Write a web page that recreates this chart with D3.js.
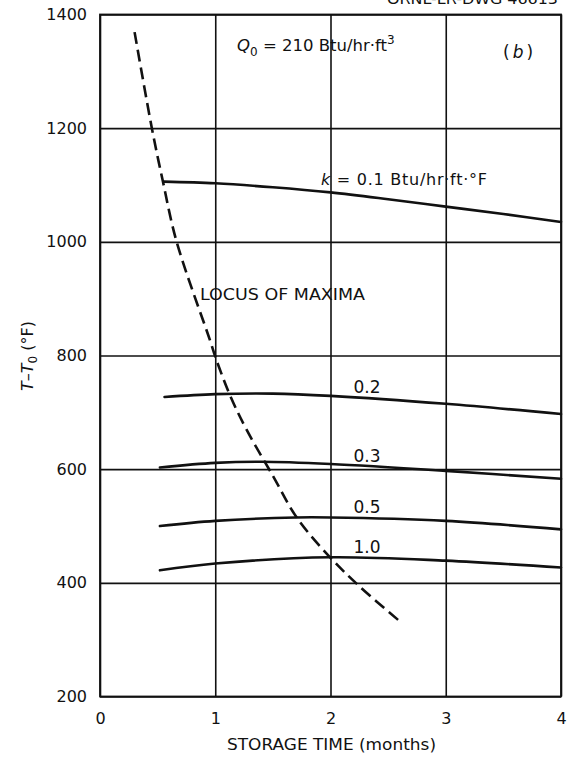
<!DOCTYPE html>
<html>
<head>
<meta charset="utf-8">
<script src="https://cdn.jsdelivr.net/npm/d3@7"></script>
<style>
  body { margin: 0; background: #fff; }
  svg { display: block; }
  text { font-family: "DejaVu Sans", sans-serif; fill: #111; }
</style>
</head>
<body>
<div id="chart"></div>
<script>
// storage time (months) and T - T0 (°F)
var xTicks = [0, 1, 2, 3, 4];
var yTicks = [200, 400, 600, 800, 1000, 1200, 1400];

var k01Time = [0.555, 1, 1.5, 2, 2.5, 3, 3.5, 4];
var k01Temp = [1106, 1103, 1096, 1087, 1075, 1062, 1049, 1035];

var k02Time = [0.56, 1, 1.5, 2, 3, 4];
var k02Temp = [727, 732, 733, 729, 715, 697];

var k03Time = [0.52, 1, 1.4, 2, 3, 4];
var k03Temp = [603, 611, 613, 609, 597, 583];

var k05Time = [0.52, 1, 1.7, 2, 3, 4];
var k05Temp = [500, 509, 515, 515, 509, 494];

var k10Time = [0.52, 1, 2, 3, 4];
var k10Temp = [422, 434, 445, 439, 427];

var locusTime = [0.30, 0.45, 0.546, 0.665, 0.954, 1.0, 1.128, 1.273, 1.504, 1.707, 1.996, 2.256, 2.603];
var locusTemp = [1369, 1200, 1106, 1000, 827, 798, 730, 669, 587, 515, 445, 393, 332];

var curveLabels = ["0.2", "0.3", "0.5", "1.0"];
var curveLabelTemp = [734, 613, 522, 452]; // label baselines (data units)

var width = 576, height = 761;
var plotLeft = 100, plotRight = 561, plotTop = 14.5, plotBottom = 696.5;

var svg = d3.select("#chart")
    .append("svg")
    .attr("width", width)
    .attr("height", height);

var x = d3.scaleLinear().domain([0, 4]).range([plotLeft, plotRight]);
var y = d3.scaleLinear().domain([200, 1400]).range([plotBottom, plotTop]);

// grid + tick labels via axes
var yAxis = d3.axisLeft(y)
    .tickValues(yTicks)
    .tickSize(-(plotRight - plotLeft))
    .tickSizeOuter(0)
    .tickPadding(13)
    .tickFormat(d3.format("d"));

var xAxis = d3.axisBottom(x)
    .tickValues(xTicks)
    .tickSize(-(plotBottom - plotTop))
    .tickSizeOuter(0)
    .tickPadding(16)
    .tickFormat(d3.format("d"));

var gy = svg.append("g")
    .attr("transform", "translate(" + plotLeft + ",0)")
    .call(yAxis);
var gx = svg.append("g")
    .attr("transform", "translate(0," + plotBottom + ")")
    .call(xAxis);

[gx, gy].forEach(function (g) {
    g.select(".domain").remove();
    g.selectAll(".tick line").attr("stroke", "#111").attr("stroke-width", 1.6);
    g.selectAll(".tick text")
        .style("font-family", "'DejaVu Sans', sans-serif")
        .style("font-size", "16px")
        .attr("fill", "#111");
});

// frame
svg.append("rect")
    .attr("x", x(0)).attr("y", y(1400))
    .attr("width", x(4) - x(0)).attr("height", y(200) - y(1400))
    .attr("fill", "none")
    .attr("stroke", "#111")
    .attr("stroke-width", 1.8);

var line = d3.line()
    .x(function (d) { return x(d[0]); })
    .y(function (d) { return y(d[1]); })
    .curve(d3.curveCatmullRom.alpha(0.5));

var series = [
    [k01Time, k01Temp],
    [k02Time, k02Temp],
    [k03Time, k03Temp],
    [k05Time, k05Temp],
    [k10Time, k10Temp]
];

svg.append("g").selectAll("path")
    .data(series)
    .enter()
    .append("path")
    .attr("d", function (s) { return line(d3.zip(s[0], s[1])); })
    .attr("fill", "none")
    .attr("stroke", "#111")
    .attr("stroke-width", 2.6)
    .attr("stroke-linecap", "round");

// locus of maxima (dashed)
svg.append("path")
    .attr("d", line(d3.zip(locusTime, locusTemp)))
    .attr("fill", "none")
    .attr("stroke", "#111")
    .attr("stroke-width", 2.6)
    .attr("stroke-dasharray", "12,6");

// curve labels
svg.append("g").selectAll("text")
    .data(curveLabels)
    .enter()
    .append("text")
    .attr("x", x(2.2))
    .attr("y", function (d, i) { return y(curveLabelTemp[i]); })
    .style("font-size", "17px")
    .text(function (d) { return d; });

// k = 0.1 label
var kLabel = svg.append("text")
    .attr("x", 321).attr("y", 185)
    .attr("textLength", 166)
    .attr("lengthAdjust", "spacing")
    .style("font-size", "16px");
kLabel.append("tspan").style("font-style", "italic").text("k");
kLabel.append("tspan").text(" = 0.1 Btu/hr·ft·°F");

// locus label
svg.append("text")
    .attr("x", 200).attr("y", 300)
    .attr("textLength", 165)
    .attr("lengthAdjust", "spacingAndGlyphs")
    .style("font-size", "16px")
    .text("LOCUS OF MAXIMA");

// Q0 label
var qLabel = svg.append("text")
    .attr("x", 237).attr("y", 51)
    .style("font-size", "16.5px");
qLabel.append("tspan").style("font-style", "italic").text("Q");
qLabel.append("tspan").attr("dy", 5).style("font-size", "12px").text("0");
qLabel.append("tspan").attr("dy", -5).text(" = 210 Btu/hr·ft");
qLabel.append("tspan").attr("dy", -7).style("font-size", "12px").text("3");

// (b)
var bLabel = svg.append("text")
    .attr("x", 503).attr("y", 58)
    .style("font-size", "17px")
    .style("letter-spacing", "3px");
bLabel.append("tspan").text("(");
bLabel.append("tspan").style("font-style", "italic").text("b");
bLabel.append("tspan").text(")");

// axis titles
svg.append("text")
    .attr("x", (x(0) + x(4)) / 2 + 1)
    .attr("y", 750)
    .attr("text-anchor", "middle")
    .attr("textLength", 209)
    .attr("lengthAdjust", "spacingAndGlyphs")
    .style("font-size", "15px")
    .text("STORAGE TIME (months)");

var yTitle = svg.append("text")
    .attr("transform", "translate(33,356) rotate(-90)")
    .attr("text-anchor", "middle")
    .style("font-size", "16px");
yTitle.append("tspan").style("font-style", "italic").text("T");
yTitle.append("tspan").text("–");
yTitle.append("tspan").style("font-style", "italic").text("T");
yTitle.append("tspan").attr("dy", 4).style("font-size", "12px").text("0");
yTitle.append("tspan").attr("dy", -4).text(" (°F)");

// drawing number, clipped at the top edge
svg.append("text")
    .attr("x", 387).attr("y", 4)
    .attr("textLength", 171)
    .attr("lengthAdjust", "spacingAndGlyphs")
    .style("font-size", "14px")
    .text("ORNL-LR-DWG 46613");
</script>
</body>
</html>
